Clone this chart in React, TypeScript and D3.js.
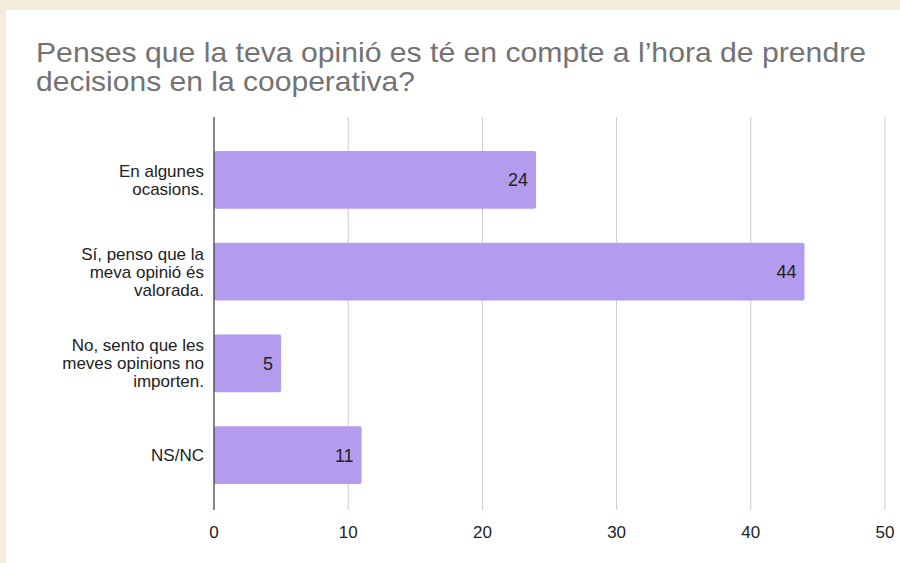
import * as d3 from "d3";

const categories = [
  ["En algunes", "ocasions."],
  ["Sí, penso que la", "meva opinió és", "valorada."],
  ["No, sento que les", "meves opinions no", "importen."],
  ["NS/NC"],
];
const values = [24, 44, 5, 11];
const xTicks = [0, 10, 20, 30, 40, 50];
const titleLines = [
  "Penses que la teva opinió es té en compte a l’hora de prendre",
  "decisions en la cooperativa?",
];
const titleWidths = [830, 379];

export default function App() {
  const width = 900;
  const height = 563;
  const font = "Arial, 'Liberation Sans', Helvetica, sans-serif";
  const keys = categories.map((_, i) => String(i));

  const x = d3.scaleLinear([0, 50], [214, 885]);
  const y = d3
    .scaleBand<string>()
    .domain(keys)
    .range([134, 501])
    .paddingInner(0.37)
    .paddingOuter(0.185);

  const plotTop = 117;
  const plotBottom = 510;

  return (
    <div style={{ position: "absolute", left: 0, top: 0 }}>
      <svg width={width} height={height} style={{ display: "block" }}>
        <rect width={width} height={height} fill="#f3ecdc" />
        <rect x={6} y={10} width={width - 6} height={height - 10} fill="#ffffff" />

        <g fontFamily={font} fontSize={28} fill="#737373">
          {titleLines.map((t, i) => (
            <text key={i} x={36} y={62 + i * 28.5} textLength={titleWidths[i]} lengthAdjust="spacingAndGlyphs">
              {t}
            </text>
          ))}
        </g>

        <g stroke="#cccccc" strokeWidth={1}>
          {xTicks.slice(1).map((t) => (
            <line key={t} x1={x(t)} x2={x(t)} y1={plotTop} y2={plotBottom} />
          ))}
        </g>

        <g fill="#b39ced">
          {values.map((v, i) => (
            <rect
              key={i}
              x={x(0)}
              y={y(keys[i])}
              width={x(v) - x(0)}
              height={y.bandwidth()}
              rx={2}
            />
          ))}
        </g>

        <line x1={x(0)} x2={x(0)} y1={plotTop} y2={plotBottom} stroke="#333333" strokeWidth={1.2} />

        <g fontFamily={font} fontSize={17} fill="#222222" textAnchor="end">
          {categories.map((lines, i) => {
            const c = (y(keys[i]) ?? 0) + y.bandwidth() / 2;
            return lines.map((l, j) => (
              <text key={`${i}-${j}`} x={204} y={c + (j - (lines.length - 1) / 2) * 18 + 6}>
                {l}
              </text>
            ));
          })}
        </g>

        <g fontFamily={font} fontSize={18} fill="#222222" textAnchor="end">
          {values.map((v, i) => (
            <text key={i} x={x(v) - 8} y={(y(keys[i]) ?? 0) + y.bandwidth() / 2 + 6.5}>
              {v}
            </text>
          ))}
        </g>

        <g fontFamily={font} fontSize={17} fill="#222222" textAnchor="middle">
          {xTicks.map((t) => (
            <text key={t} x={x(t)} y={538}>
              {t}
            </text>
          ))}
        </g>
      </svg>
    </div>
  );
}
